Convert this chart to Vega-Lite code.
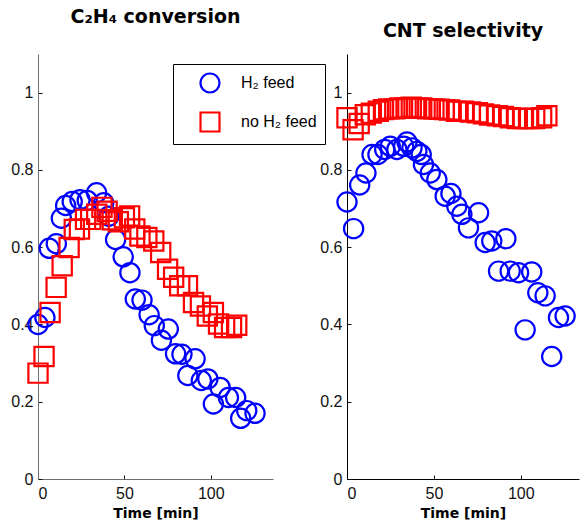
{
  "$schema": "https://vega.github.io/schema/vega-lite/v6.json",
  "background": "white",
  "padding": {"left": 10, "top": 8, "right": 0, "bottom": 0},
  "config": {
    "view": {"stroke": null},
    "axis": {
      "grid": false,
      "labelFont": "Liberation Sans",
      "labelFontSize": 16,
      "labelColor": "#111",
      "tickColor": "#111",
      "tickSize": -4,
      "titleFont": "DejaVu Sans",
      "titleFontSize": 14,
      "titleFontWeight": "bold",
      "titleColor": "#000"
    },
    "title": {"font": "DejaVu Sans", "fontSize": 19, "fontWeight": "bold", "color": "#000", "anchor": "middle", "baseline": "alphabetic"},
    "concat": {"spacing": 74}
  },
  "bounds": "flush",
  "data": {"values": [
    {"panel": "conv", "series": "H₂ feed", "t": 0, "v": 0.40},
    {"panel": "conv", "series": "H₂ feed", "t": 4, "v": 0.418},
    {"panel": "conv", "series": "H₂ feed", "t": 6.5, "v": 0.597},
    {"panel": "conv", "series": "H₂ feed", "t": 10.6, "v": 0.609},
    {"panel": "conv", "series": "H₂ feed", "t": 13.5, "v": 0.675},
    {"panel": "conv", "series": "H₂ feed", "t": 16, "v": 0.708},
    {"panel": "conv", "series": "H₂ feed", "t": 19.8, "v": 0.718},
    {"panel": "conv", "series": "H₂ feed", "t": 24.3, "v": 0.723},
    {"panel": "conv", "series": "H₂ feed", "t": 28.5, "v": 0.721},
    {"panel": "conv", "series": "H₂ feed", "t": 33.9, "v": 0.741},
    {"panel": "conv", "series": "H₂ feed", "t": 38, "v": 0.715},
    {"panel": "conv", "series": "H₂ feed", "t": 41, "v": 0.68},
    {"panel": "conv", "series": "H₂ feed", "t": 44.9, "v": 0.62},
    {"panel": "conv", "series": "H₂ feed", "t": 49.3, "v": 0.575},
    {"panel": "conv", "series": "H₂ feed", "t": 53.2, "v": 0.534},
    {"panel": "conv", "series": "H₂ feed", "t": 56.3, "v": 0.466},
    {"panel": "conv", "series": "H₂ feed", "t": 60.2, "v": 0.463},
    {"panel": "conv", "series": "H₂ feed", "t": 64.3, "v": 0.425},
    {"panel": "conv", "series": "H₂ feed", "t": 67.3, "v": 0.397},
    {"panel": "conv", "series": "H₂ feed", "t": 71.4, "v": 0.359},
    {"panel": "conv", "series": "H₂ feed", "t": 75.4, "v": 0.388},
    {"panel": "conv", "series": "H₂ feed", "t": 79.6, "v": 0.324},
    {"panel": "conv", "series": "H₂ feed", "t": 83.3, "v": 0.323},
    {"panel": "conv", "series": "H₂ feed", "t": 86.7, "v": 0.268},
    {"panel": "conv", "series": "H₂ feed", "t": 90.9, "v": 0.311},
    {"panel": "conv", "series": "H₂ feed", "t": 94.5, "v": 0.255},
    {"panel": "conv", "series": "H₂ feed", "t": 98.3, "v": 0.259},
    {"panel": "conv", "series": "H₂ feed", "t": 101.5, "v": 0.194},
    {"panel": "conv", "series": "H₂ feed", "t": 105.4, "v": 0.237},
    {"panel": "conv", "series": "H₂ feed", "t": 110.2, "v": 0.211},
    {"panel": "conv", "series": "H₂ feed", "t": 114.4, "v": 0.211},
    {"panel": "conv", "series": "H₂ feed", "t": 117.3, "v": 0.157},
    {"panel": "conv", "series": "H₂ feed", "t": 120.8, "v": 0.177},
    {"panel": "conv", "series": "H₂ feed", "t": 125.6, "v": 0.17},
    {"panel": "conv", "series": "no H₂ feed", "t": 0, "v": 0.274},
    {"panel": "conv", "series": "no H₂ feed", "t": 3.5, "v": 0.317},
    {"panel": "conv", "series": "no H₂ feed", "t": 7, "v": 0.431},
    {"panel": "conv", "series": "no H₂ feed", "t": 10.5, "v": 0.496},
    {"panel": "conv", "series": "no H₂ feed", "t": 14, "v": 0.552},
    {"panel": "conv", "series": "no H₂ feed", "t": 18, "v": 0.599},
    {"panel": "conv", "series": "no H₂ feed", "t": 21, "v": 0.646},
    {"panel": "conv", "series": "no H₂ feed", "t": 24, "v": 0.647},
    {"panel": "conv", "series": "no H₂ feed", "t": 27.5, "v": 0.672},
    {"panel": "conv", "series": "no H₂ feed", "t": 30.5, "v": 0.672},
    {"panel": "conv", "series": "no H₂ feed", "t": 34, "v": 0.685},
    {"panel": "conv", "series": "no H₂ feed", "t": 37, "v": 0.703},
    {"panel": "conv", "series": "no H₂ feed", "t": 40, "v": 0.693},
    {"panel": "conv", "series": "no H₂ feed", "t": 43, "v": 0.671},
    {"panel": "conv", "series": "no H₂ feed", "t": 46.5, "v": 0.666},
    {"panel": "conv", "series": "no H₂ feed", "t": 50, "v": 0.676},
    {"panel": "conv", "series": "no H₂ feed", "t": 53, "v": 0.681},
    {"panel": "conv", "series": "no H₂ feed", "t": 56, "v": 0.647},
    {"panel": "conv", "series": "no H₂ feed", "t": 59, "v": 0.629},
    {"panel": "conv", "series": "no H₂ feed", "t": 63, "v": 0.625},
    {"panel": "conv", "series": "no H₂ feed", "t": 67, "v": 0.616},
    {"panel": "conv", "series": "no H₂ feed", "t": 71, "v": 0.586},
    {"panel": "conv", "series": "no H₂ feed", "t": 75, "v": 0.543},
    {"panel": "conv", "series": "no H₂ feed", "t": 78.5, "v": 0.522},
    {"panel": "conv", "series": "no H₂ feed", "t": 82, "v": 0.5},
    {"panel": "conv", "series": "no H₂ feed", "t": 86.5, "v": 0.5},
    {"panel": "conv", "series": "no H₂ feed", "t": 90, "v": 0.457},
    {"panel": "conv", "series": "no H₂ feed", "t": 94, "v": 0.448},
    {"panel": "conv", "series": "no H₂ feed", "t": 98, "v": 0.422},
    {"panel": "conv", "series": "no H₂ feed", "t": 101.5, "v": 0.431},
    {"panel": "conv", "series": "no H₂ feed", "t": 104.5, "v": 0.401},
    {"panel": "conv", "series": "no H₂ feed", "t": 108, "v": 0.392},
    {"panel": "conv", "series": "no H₂ feed", "t": 112, "v": 0.392},
    {"panel": "conv", "series": "no H₂ feed", "t": 115, "v": 0.398},
    {"panel": "sel", "series": "H₂ feed", "t": 0, "v": 0.717},
    {"panel": "sel", "series": "H₂ feed", "t": 3.8, "v": 0.648},
    {"panel": "sel", "series": "H₂ feed", "t": 7.3, "v": 0.761},
    {"panel": "sel", "series": "H₂ feed", "t": 10.9, "v": 0.792},
    {"panel": "sel", "series": "H₂ feed", "t": 14.4, "v": 0.84},
    {"panel": "sel", "series": "H₂ feed", "t": 17.8, "v": 0.84},
    {"panel": "sel", "series": "H₂ feed", "t": 21.7, "v": 0.853},
    {"panel": "sel", "series": "H₂ feed", "t": 24.9, "v": 0.861},
    {"panel": "sel", "series": "H₂ feed", "t": 28.7, "v": 0.853},
    {"panel": "sel", "series": "H₂ feed", "t": 32.6, "v": 0.861},
    {"panel": "sel", "series": "H₂ feed", "t": 34.5, "v": 0.872},
    {"panel": "sel", "series": "H₂ feed", "t": 37.4, "v": 0.857},
    {"panel": "sel", "series": "H₂ feed", "t": 40.2, "v": 0.848},
    {"panel": "sel", "series": "H₂ feed", "t": 42.7, "v": 0.84},
    {"panel": "sel", "series": "H₂ feed", "t": 44, "v": 0.814},
    {"panel": "sel", "series": "H₂ feed", "t": 47.9, "v": 0.792},
    {"panel": "sel", "series": "H₂ feed", "t": 51.7, "v": 0.775},
    {"panel": "sel", "series": "H₂ feed", "t": 56.5, "v": 0.732},
    {"panel": "sel", "series": "H₂ feed", "t": 59.8, "v": 0.739},
    {"panel": "sel", "series": "H₂ feed", "t": 63.2, "v": 0.706},
    {"panel": "sel", "series": "H₂ feed", "t": 66.1, "v": 0.685},
    {"panel": "sel", "series": "H₂ feed", "t": 69.9, "v": 0.65},
    {"panel": "sel", "series": "H₂ feed", "t": 75.7, "v": 0.689},
    {"panel": "sel", "series": "H₂ feed", "t": 79.5, "v": 0.612},
    {"panel": "sel", "series": "H₂ feed", "t": 83.3, "v": 0.616},
    {"panel": "sel", "series": "H₂ feed", "t": 87.2, "v": 0.538},
    {"panel": "sel", "series": "H₂ feed", "t": 91.4, "v": 0.622},
    {"panel": "sel", "series": "H₂ feed", "t": 93.9, "v": 0.538},
    {"panel": "sel", "series": "H₂ feed", "t": 98.7, "v": 0.534},
    {"panel": "sel", "series": "H₂ feed", "t": 102.5, "v": 0.386},
    {"panel": "sel", "series": "H₂ feed", "t": 106.3, "v": 0.536},
    {"panel": "sel", "series": "H₂ feed", "t": 109.8, "v": 0.482},
    {"panel": "sel", "series": "H₂ feed", "t": 114, "v": 0.474},
    {"panel": "sel", "series": "H₂ feed", "t": 117.8, "v": 0.317},
    {"panel": "sel", "series": "H₂ feed", "t": 121.7, "v": 0.418},
    {"panel": "sel", "series": "H₂ feed", "t": 125.5, "v": 0.422},
    {"panel": "sel", "series": "no H₂ feed", "t": 0, "v": 0.935},
    {"panel": "sel", "series": "no H₂ feed", "t": 3.5, "v": 0.904},
    {"panel": "sel", "series": "no H₂ feed", "t": 7, "v": 0.92},
    {"panel": "sel", "series": "no H₂ feed", "t": 10.5, "v": 0.943},
    {"panel": "sel", "series": "no H₂ feed", "t": 14, "v": 0.947},
    {"panel": "sel", "series": "no H₂ feed", "t": 18, "v": 0.952},
    {"panel": "sel", "series": "no H₂ feed", "t": 21, "v": 0.956},
    {"panel": "sel", "series": "no H₂ feed", "t": 24, "v": 0.958},
    {"panel": "sel", "series": "no H₂ feed", "t": 27.5, "v": 0.958},
    {"panel": "sel", "series": "no H₂ feed", "t": 30.5, "v": 0.96},
    {"panel": "sel", "series": "no H₂ feed", "t": 34, "v": 0.96},
    {"panel": "sel", "series": "no H₂ feed", "t": 37, "v": 0.962},
    {"panel": "sel", "series": "no H₂ feed", "t": 40, "v": 0.96},
    {"panel": "sel", "series": "no H₂ feed", "t": 43, "v": 0.96},
    {"panel": "sel", "series": "no H₂ feed", "t": 46.5, "v": 0.958},
    {"panel": "sel", "series": "no H₂ feed", "t": 50, "v": 0.958},
    {"panel": "sel", "series": "no H₂ feed", "t": 53, "v": 0.957},
    {"panel": "sel", "series": "no H₂ feed", "t": 56, "v": 0.956},
    {"panel": "sel", "series": "no H₂ feed", "t": 59, "v": 0.955},
    {"panel": "sel", "series": "no H₂ feed", "t": 63, "v": 0.952},
    {"panel": "sel", "series": "no H₂ feed", "t": 67, "v": 0.952},
    {"panel": "sel", "series": "no H₂ feed", "t": 71, "v": 0.95},
    {"panel": "sel", "series": "no H₂ feed", "t": 75, "v": 0.948},
    {"panel": "sel", "series": "no H₂ feed", "t": 78.5, "v": 0.945},
    {"panel": "sel", "series": "no H₂ feed", "t": 82, "v": 0.942},
    {"panel": "sel", "series": "no H₂ feed", "t": 86.5, "v": 0.94},
    {"panel": "sel", "series": "no H₂ feed", "t": 90, "v": 0.938},
    {"panel": "sel", "series": "no H₂ feed", "t": 94, "v": 0.935},
    {"panel": "sel", "series": "no H₂ feed", "t": 98, "v": 0.933},
    {"panel": "sel", "series": "no H₂ feed", "t": 101.5, "v": 0.933},
    {"panel": "sel", "series": "no H₂ feed", "t": 104.5, "v": 0.933},
    {"panel": "sel", "series": "no H₂ feed", "t": 108, "v": 0.933},
    {"panel": "sel", "series": "no H₂ feed", "t": 112, "v": 0.935},
    {"panel": "sel", "series": "no H₂ feed", "t": 115, "v": 0.94}
  ]},
  "hconcat": [
    {
      "width": 235,
      "height": 425,
      "title": {"text": "C₂H₄ conversion", "offset": 27},
      "transform": [{"filter": "datum.panel === 'conv'"}],
      "mark": {"type": "point", "filled": false, "strokeWidth": 2.2, "size": 370, "opacity": 1},
      "encoding": {
        "x": {"field": "t", "type": "quantitative", "title": "Time [min]",
              "scale": {"domain": [0, 136], "nice": false, "zero": false},
              "axis": {"values": [0, 50, 100], "domainColor": "#707070", "labelPadding": 10, "titlePadding": 5}},
        "y": {"field": "v", "type": "quantitative", "title": null,
              "scale": {"domain": [0, 1.1], "nice": false},
              "axis": {"values": [0, 0.2, 0.4, 0.6, 0.8, 1], "format": "~g", "domainColor": "#707070", "labelPadding": 9}},
        "color": {"field": "series", "type": "nominal",
                  "scale": {"domain": ["H₂ feed", "no H₂ feed"], "range": ["#0000ff", "#ff0000"]},
                  "legend": {"orient": "none", "legendX": 135, "legendY": 10, "title": null,
                             "strokeColor": "#000", "fillColor": "#fff", "padding": 8,
                             "symbolOffset": 18, "labelOffset": 20, "rowPadding": 11,
                             "symbolSize": 360, "symbolStrokeWidth": 2.2,
                             "labelFont": "Liberation Sans", "labelFontSize": 16, "labelColor": "#000"}},
        "shape": {"field": "series", "type": "nominal",
                  "scale": {"domain": ["H₂ feed", "no H₂ feed"], "range": ["circle", "square"]}},
        "order": {"field": "series", "type": "nominal"}
      }
    },
    {
      "width": 232,
      "height": 425,
      "title": {"text": "CNT selectivity", "offset": 13},
      "transform": [{"filter": "datum.panel === 'sel'"}],
      "mark": {"type": "point", "filled": false, "strokeWidth": 2.2, "size": 370, "opacity": 1},
      "encoding": {
        "x": {"field": "t", "type": "quantitative", "title": "Time [min]",
              "scale": {"domain": [0, 133.5], "nice": false, "zero": false},
              "axis": {"values": [0, 50, 100], "domainColor": "#000", "labelPadding": 10, "titlePadding": 5}},
        "y": {"field": "v", "type": "quantitative", "title": null,
              "scale": {"domain": [0, 1.1], "nice": false},
              "axis": {"values": [0, 0.2, 0.4, 0.6, 0.8, 1], "format": "~g", "domainColor": "#000", "labelPadding": 9}},
        "color": {"field": "series", "type": "nominal",
                  "scale": {"domain": ["H₂ feed", "no H₂ feed"], "range": ["#0000ff", "#ff0000"]}},
        "shape": {"field": "series", "type": "nominal",
                  "scale": {"domain": ["H₂ feed", "no H₂ feed"], "range": ["circle", "square"]}},
        "order": {"field": "series", "type": "nominal"}
      }
    }
  ],
  "resolve": {"scale": {"x": "independent", "y": "independent"}}
}
